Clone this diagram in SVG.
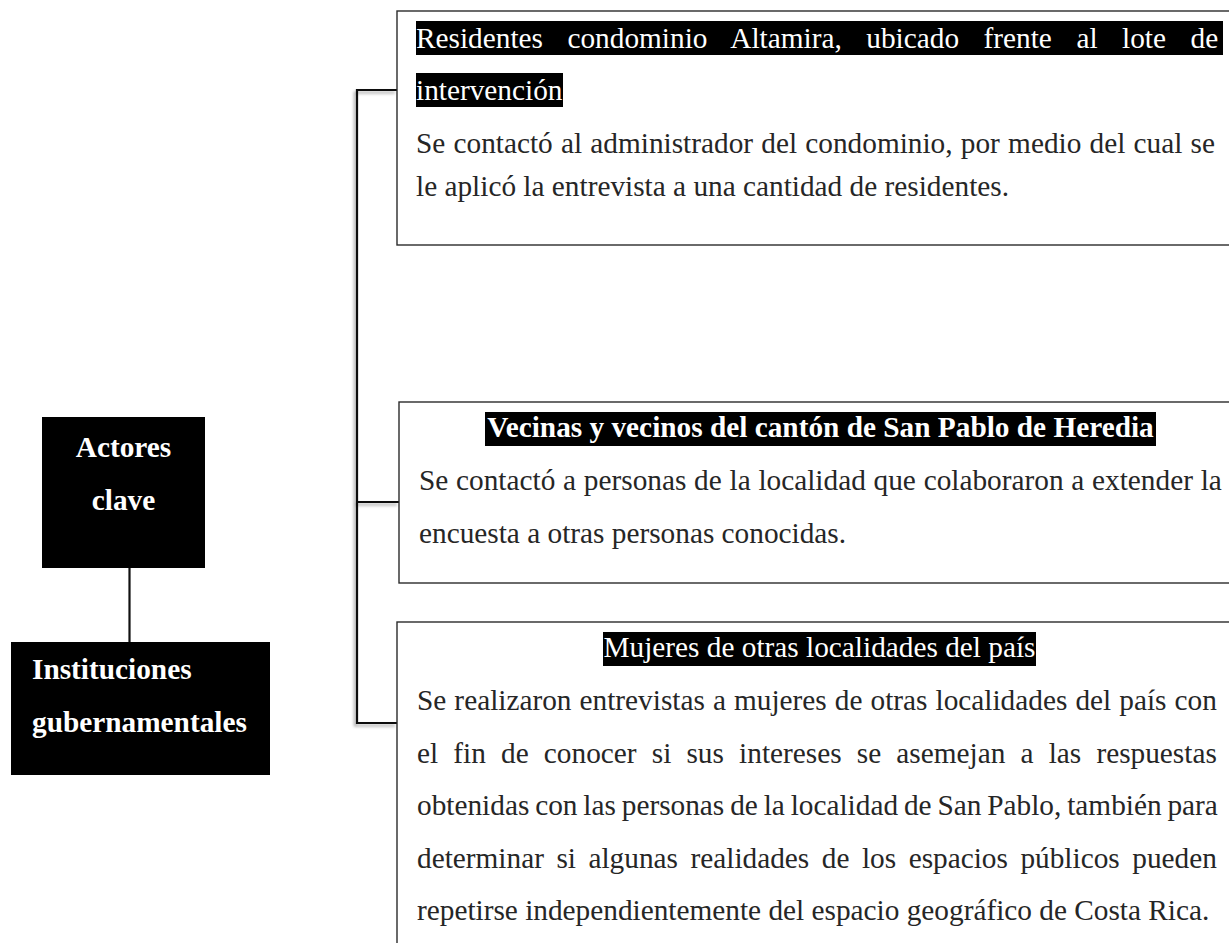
<svg xmlns="http://www.w3.org/2000/svg" width="1229" height="943" viewBox="0 0 1229 943">
<style>
  .t{font-family:"Liberation Serif","Times New Roman",serif;font-size:29.3px;}
  .body{fill:#262626;}
  .hl{fill:#ffffff;}
  .b{font-weight:bold;}
  .box{fill:#ffffff;stroke:#2b2b2b;stroke-width:1.4;}
  .dark{fill:#000000;}
  .mark{fill:#000000;}
  .conn{stroke:#111111;stroke-width:2.2;fill:none;}
</style>
<defs>
  <filter id="sh" x="-20%" y="-5%" width="140%" height="110%">
    <feDropShadow dx="-2" dy="2.5" stdDeviation="1.6" flood-color="#000000" flood-opacity="0.35"/>
  </filter>
</defs>
<rect width="1229" height="943" fill="#ffffff"/>

<g id="connectors">
  <path class="conn" filter="url(#sh)" d="M397,90 H357 V723 H397 M357,502 H399"/>
  <line class="conn" x1="129.5" y1="568" x2="129.5" y2="642"/>
</g>

<g id="actores">
  <rect class="dark" x="42" y="417" width="163" height="151"/>
  <text class="t b hl" x="123.5" y="457" text-anchor="middle">Actores</text>
  <text class="t b hl" x="123.5" y="510" text-anchor="middle">clave</text>
</g>

<g id="instituciones">
  <rect class="dark" x="11" y="642" width="259" height="133"/>
  <text class="t b hl" x="32" y="679">Instituciones</text>
  <text class="t b hl" x="32" y="732">gubernamentales</text>
</g>

<g id="residentes">
  <rect class="box" x="397" y="11" width="850" height="234"/>
  <rect class="mark" x="416" y="21" width="807" height="34"/>
  <rect class="mark" x="416" y="73" width="147" height="34"/>
  <text class="t hl" x="416" y="48" style="word-spacing:17.2px">Residentes condominio Altamira, ubicado frente al lote de</text>
  <text class="t hl" x="416" y="100">intervención</text>
  <text class="t body" x="416" y="153" style="word-spacing:0.9px">Se contactó al administrador del condominio, por medio del cual se</text>
  <text class="t body" x="416" y="196">le aplicó la entrevista a una cantidad de residentes.</text>
</g>

<g id="vecinos">
  <rect class="box" x="399" y="402" width="850" height="181"/>
  <rect class="mark" x="485" y="412" width="671" height="34"/>
  <text class="t b hl" x="820.5" y="437" text-anchor="middle">Vecinas y vecinos del cantón de San Pablo de Heredia</text>
  <text class="t body" x="419" y="490" style="word-spacing:0.44px">Se contactó a personas de la localidad que colaboraron a extender la</text>
  <text class="t body" x="419" y="543">encuesta a otras personas conocidas.</text>
</g>

<g id="mujeres">
  <rect class="box" x="397" y="622" width="850" height="340"/>
  <rect class="mark" x="603" y="632" width="433" height="34"/>
  <text class="t hl" x="819.5" y="657" text-anchor="middle">Mujeres de otras localidades del país</text>
  <text class="t body" x="417" y="710" style="word-spacing:0.75px">Se realizaron entrevistas a mujeres de otras localidades del país con</text>
  <text class="t body" x="417" y="763" style="word-spacing:7.85px">el fin de conocer si sus intereses se asemejan a las respuestas</text>
  <text class="t body" x="417" y="815" style="word-spacing:-1.45px">obtenidas con las personas de la localidad de San Pablo, también para</text>
  <text class="t body" x="417" y="868" style="word-spacing:5.2px">determinar si algunas realidades de los espacios públicos pueden</text>
  <text class="t body" x="417" y="920">repetirse independientemente del espacio geográfico de Costa Rica.</text>
</g>
</svg>
